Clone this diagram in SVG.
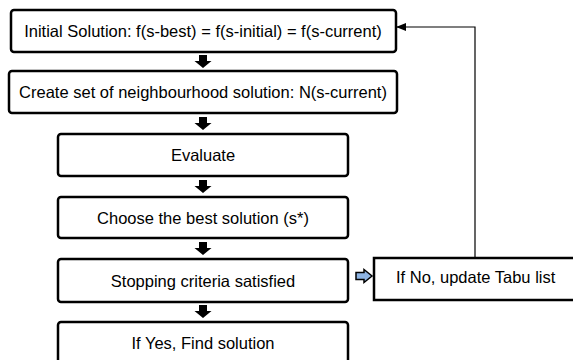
<svg xmlns="http://www.w3.org/2000/svg" width="573" height="360" viewBox="0 0 573 360">
<defs>
<style>
.box{fill:#fff;stroke:#000;stroke-width:2.5}
.t{font-family:"Liberation Sans",Arial,sans-serif;font-size:16.5px;fill:#000;text-anchor:middle;dominant-baseline:central}
.blk{fill:#000}
.conn{fill:none;stroke:#000;stroke-width:1.2}
</style>
<marker id="ah" markerWidth="10" markerHeight="8" refX="9" refY="4" orient="auto" markerUnits="userSpaceOnUse">
<path d="M0,0 L10,4 L0,8 Z" fill="#000"/>
</marker>
<path id="down" d="M-4,0 H4 V6 H8.5 L0,13 L-8.5,6 H-4 Z"/>
</defs>
<rect width="573" height="360" fill="#fff"/>
<g id="n1"><rect class="box" x="11" y="10" width="385" height="42" rx="3"/><text class="t" x="203" y="31">Initial Solution: f(s-best) = f(s-initial) = f(s-current)</text></g>
<g id="n2"><rect class="box" x="9" y="71" width="388" height="42" rx="3"/><text class="t" x="203" y="92">Create set of neighbourhood solution: N(s-current)</text></g>
<g id="n3"><rect class="box" x="58" y="134" width="290" height="42" rx="3"/><text class="t" x="203" y="155">Evaluate</text></g>
<g id="n4"><rect class="box" x="58" y="197" width="290" height="41" rx="3"/><text class="t" x="203" y="218">Choose the best solution (s*)</text></g>
<g id="n5"><rect class="box" x="58" y="259" width="290" height="43" rx="3"/><text class="t" x="203" y="281">Stopping criteria satisfied</text></g>
<g id="n6"><rect class="box" x="58" y="322" width="290" height="50" rx="3"/><text class="t" x="203" y="343">If Yes, Find solution</text></g>
<g id="n7"><rect class="box" x="374" y="258" width="210" height="42"/><text class="t" x="396" y="277" style="text-anchor:start">If No, update Tabu list</text></g>
<g id="connectors">
<use href="#down" class="blk" x="203" y="55"/>
<use href="#down" class="blk" x="203" y="117"/>
<use href="#down" class="blk" x="203" y="180"/>
<use href="#down" class="blk" x="203" y="242"/>
<use href="#down" class="blk" x="203" y="305"/>
<path d="M356,272.5 H364 V269.5 L372,276 L364,282.5 V279.5 H356 Z" fill="#8eb4e3" stroke="#000" stroke-width="1.5" stroke-linejoin="miter"/>
<path class="conn" d="M475,258 V27 H397" marker-end="url(#ah)"/>
</g>
</svg>
